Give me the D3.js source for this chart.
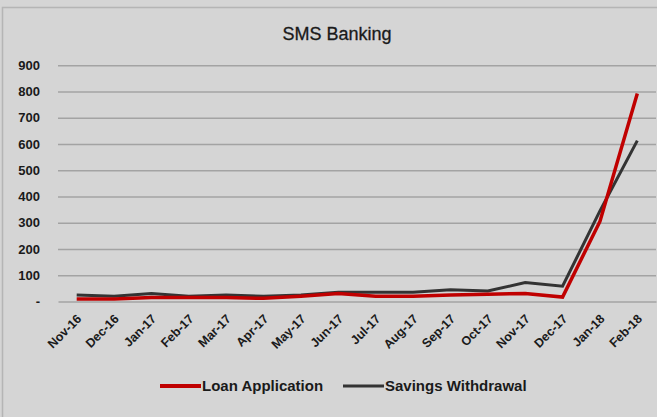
<!DOCTYPE html>
<html><head><meta charset="utf-8">
<script src="https://cdn.jsdelivr.net/npm/d3@7"></script>
<style>body{margin:0;background:#d5d5d5;}svg{display:block;font-family:"Liberation Sans",Arial,sans-serif;}</style>
</head><body><svg id="c" width="657" height="417"></svg>
<script>
const categories = ["Nov-16","Dec-16","Jan-17","Feb-17","Mar-17","Apr-17","May-17","Jun-17","Jul-17","Aug-17","Sep-17","Oct-17","Nov-17","Dec-17","Jan-18","Feb-18"];
const loanApplication = [10,10,15,15,15,12,20,30,20,20,25,28,30,17,305,792];
const savingsWithdrawal = [25,20,30,20,25,20,25,35,35,35,45,40,72,58,345,613];
const yTicks = [0,100,200,300,400,500,600,700,800,900];
const title = "SMS Banking";
const seriesNames = ["Loan Application","Savings Withdrawal"];
const colors = ["#c00000","#333333"];

(function(){
const svg = d3.select("#c");
svg.append("rect").attr("x",2.5).attr("y",7.5).attr("width",660).attr("height",420).attr("fill","#d5d5d5").attr("stroke","#b5b5b5").attr("stroke-width",1.5);
const pLeft = 58, pRight = 656, pTop = 65.25, pBottom = 301.5;
const x = d3.scalePoint().domain(categories).range([pLeft, pRight]).padding(0.5);
const y = d3.scaleLinear().domain([0,900]).range([pBottom, pTop]);

svg.append("text").attr("x",337).attr("y",40).attr("text-anchor","middle").attr("font-size",18).attr("fill","#1a1a1a").attr("stroke","#1a1a1a").attr("stroke-width",0.3).text(title);

const ga = svg.append("g").attr("transform",`translate(${pLeft},0)`)
 .call(d3.axisLeft(y).tickValues(yTicks).tickSize(-(pRight-pLeft)).tickFormat(d=> d===0 ? "-" : d));
ga.select(".domain").remove();
ga.selectAll(".tick line").attr("stroke","#a3a3a3").attr("stroke-width",1.4);
ga.selectAll(".tick text").attr("x",-18).attr("font-size",13).attr("font-weight","bold").attr("fill","#1a1a1a");
ga.selectAll(".tick").filter(d=>d===0).select("line").remove();

const gx = svg.append("g").attr("transform",`translate(0,${pBottom})`)
 .call(d3.axisBottom(x).tickSize(0).tickPadding(0));
gx.select(".domain").attr("stroke","#a3a3a3").attr("stroke-width",1.4);
gx.selectAll(".tick text").attr("font-size",12.5).attr("font-weight","bold").attr("fill","#1a1a1a")
 .attr("text-anchor","end").attr("x",0).attr("y",0).attr("dy","0.35em").attr("transform","translate(2,15) rotate(-45)");

const line = d3.line().x((d,i)=>x(categories[i])).y(d=>y(d));
svg.append("path").datum(savingsWithdrawal).attr("d",line).attr("fill","none").attr("stroke",colors[1]).attr("stroke-width",3);
svg.append("path").datum(loanApplication).attr("d",line).attr("fill","none").attr("stroke",colors[0]).attr("stroke-width",3.5);

const leg = [{x:160,name:seriesNames[0],c:colors[0],w:4},{x:343,name:seriesNames[1],c:colors[1],w:3}];
leg.forEach(l=>{
  svg.append("line").attr("x1",l.x).attr("x2",l.x+41).attr("y1",386).attr("y2",386).attr("stroke",l.c).attr("stroke-width",l.w);
  svg.append("text").attr("x",l.x+42).attr("y",391).attr("font-size",15).attr("font-weight","bold").attr("fill","#1a1a1a").text(l.name);
});
})();
</script></body></html>
